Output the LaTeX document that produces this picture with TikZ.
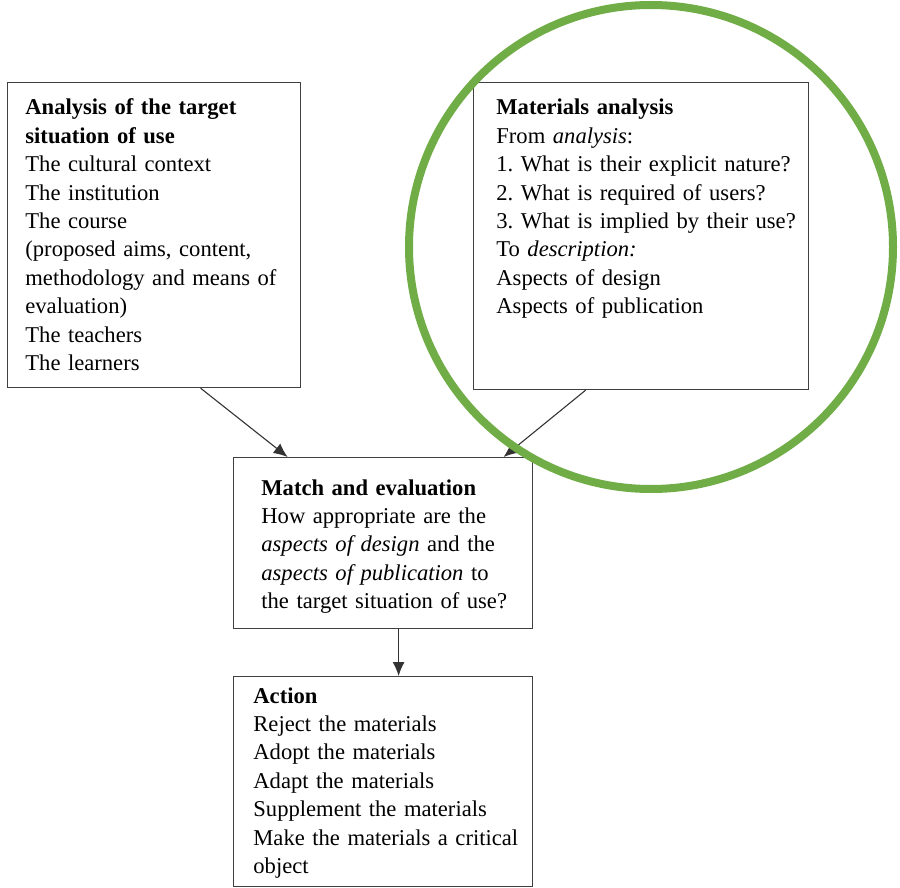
\documentclass[tikz,border=0pt]{standalone}
\usepackage{fontspec}
\setmainfont{Liberation Serif}
\usepackage{xcolor}
\usepackage{tikz}
\usetikzlibrary{arrows.meta,calc,positioning}
\definecolor{ringgreen}{HTML}{70AD47}
\definecolor{boxgray}{HTML}{404040}
\frenchspacing
\tikzset{
  box/.style={rectangle,draw=boxgray,line width=0.6pt,fill=white,anchor=north west,inner sep=0pt},
  txt/.style={anchor=base west,align=left,text width=170pt,inner sep=0pt,font=\fontsize{11.3}{14.2}\selectfont},
  link/.style={->,line width=0.55pt,draw=black!80}
}
\begin{document}
\begin{tikzpicture}[x=0.5pt,y=-0.5pt,>={Latex[length=7pt,width=6pt]}]
    \useasboundingbox (0,0) rectangle (900,888);
    % target situation box
    \node[box,minimum width=146.5pt,minimum height=152.5pt] (analysis) at (7,82) {};
    \node[txt] (analysis-txt) at (25,115) {\textbf{Analysis of the target}\\
      \textbf{situation of use}\\
      The cultural context\\
      The institution\\
      The course\\
      (proposed aims, content,\\
      methodology and means of\\
      evaluation)\\
      The teachers\\
      The learners};
    % materials box
    \node[box,minimum width=167.5pt,minimum height=153.5pt] (materials) at (473,82) {};
    \node[txt] (materials-txt) at (496,115) {\textbf{Materials analysis}\\
      From \textit{analysis}:\\
      1. What is their explicit nature?\\
      2. What is required of users?\\
      3. What is implied by their use?\\
      To \textit{description:}\\
      Aspects of design\\
      Aspects of publication};
    % match box
    \node[box,minimum width=149.5pt,minimum height=85.5pt] (match) at (233,457) {};
    \node[txt] (match-txt) at (261,495) {\textbf{Match and evaluation}\\
      How appropriate are the\\
      \textit{aspects of design} and the\\
      \textit{aspects of publication} to\\
      the target situation of use?};
    % action box
    \node[box,minimum width=149.5pt,minimum height=105pt] (action) at (233,676) {};
    \node[txt] (action-txt) at (253,703) {\textbf{Action}\\
      Reject the materials\\
      Adopt the materials\\
      Adapt the materials\\
      Supplement the materials\\
      Make the materials a critical\\
      object};
    % arrows
    \draw[link] ([xshift=23.25pt]analysis.south) -- ([xshift=-47.75pt]match.north);
    \draw[link] ([xshift=-27.75pt]materials.south) -- ([xshift=60.25pt]match.north);
    \draw[link] ([xshift=7.75pt]match.south) -- ([xshift=7.75pt]action.north);
    % green ring
    \draw[ringgreen,line width=4pt] (651,247) circle[radius=121pt];
\end{tikzpicture}
\end{document}
